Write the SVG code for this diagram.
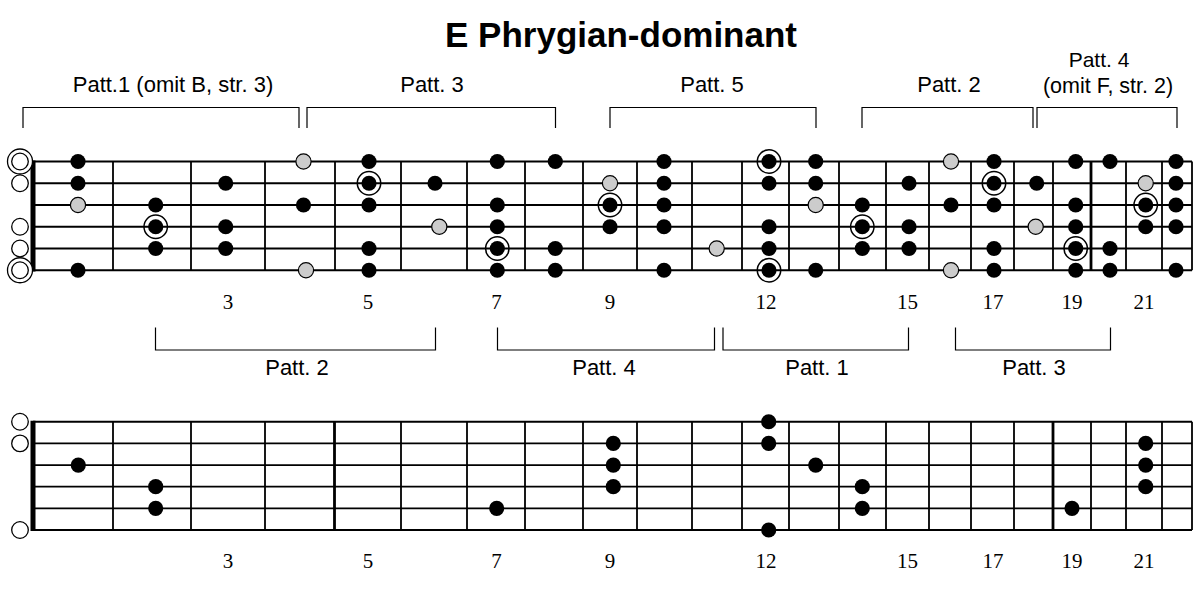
<svg xmlns="http://www.w3.org/2000/svg" width="1200" height="594" viewBox="0 0 1200 594">
<style>
.str{stroke:#000;stroke-width:1.8}
.fret{stroke:#000;stroke-width:1.8}
.thick{stroke-width:2.8}
.nut{fill:#000}
.b{fill:#000}
.g{fill:#ccc;stroke:#000;stroke-width:1.2}
.ring{fill:none;stroke:#000;stroke-width:1.5}
.open{fill:#fff;stroke:#000;stroke-width:1.3}
.br{fill:none;stroke:#000;stroke-width:1.2}
.lbl{font-family:"Liberation Sans",Arial,sans-serif;font-size:22px;text-anchor:middle;fill:#000}
.num{font-family:"Liberation Serif","Times New Roman",serif;font-size:21px;text-anchor:middle;fill:#000}
.title{font-family:"Liberation Sans",Arial,sans-serif;font-weight:bold;font-size:35px;text-anchor:middle;fill:#000}
</style>
<rect width="1200" height="594" fill="#fff"/>
<g id="title"><text class="title" x="621" y="47">E Phrygian-dominant</text></g>

<g id="top-labels">
<text class="lbl" x="173" y="92">Patt.1 (omit B, str. 3)</text>
<text class="lbl" x="432" y="92">Patt. 3</text>
<text class="lbl" x="712" y="92">Patt. 5</text>
<text class="lbl" x="949" y="92">Patt. 2</text>
<text class="lbl" x="1099" y="67" style="font-size:21px">Patt. 4</text>
<text class="lbl" x="1108" y="93" style="font-size:21.5px">(omit F, str. 2)</text>
</g>
<g id="connectors">
<path class="br" d="M23,128V107.5H299V128M307,128V107.5H555.5V128M610,128V107.5H816V128M862,128V107.5H1033V128M1037,128V107.5H1177V128"/>
<path class="br" d="M155.5,327.5V350H435.5V327.5M497.5,327.5V350H714.5V327.5M723,327.5V350H908.5V327.5M955.5,327.5V350H1110.5V327.5"/>
</g>
<g id="mid-labels">
<text class="lbl" x="297" y="375">Patt. 2</text>
<text class="lbl" x="604" y="375">Patt. 4</text>
<text class="lbl" x="817" y="375">Patt. 1</text>
<text class="lbl" x="1034" y="375">Patt. 3</text>
</g>

<g id="board-top">
<g class="strings">
<line class="str" x1="33" y1="161.5" x2="1192" y2="161.5"/>
<line class="str" x1="33" y1="183.25" x2="1192" y2="183.25"/>
<line class="str" x1="33" y1="205" x2="1192" y2="205"/>
<line class="str" x1="33" y1="226.75" x2="1192" y2="226.75"/>
<line class="str" x1="33" y1="248.5" x2="1192" y2="248.5"/>
<line class="str" x1="33" y1="270.25" x2="1192" y2="270.25"/>
</g>
<path class="fret" d="M113,161.5V270.25M191,161.5V270.25M265,161.5V270.25M335,161.5V270.25M401,161.5V270.25M467,161.5V270.25M525,161.5V270.25M583,161.5V270.25M637,161.5V270.25M692,161.5V270.25M742,161.5V270.25M789,161.5V270.25M839,161.5V270.25M886,161.5V270.25M929,161.5V270.25M971,161.5V270.25M1014,161.5V270.25M1053,161.5V270.25M1126,161.5V270.25M1162,161.5V270.25M1192,161.5V270.25"/>
<path class="fret thick" d="M1091,161.5V270.25"/>
<rect class="nut" x="30.5" y="160.5" width="5" height="111"/>
<g id="open-top">
<circle class="open" cx="20" cy="161.5" r="12.5"/><circle class="open" cx="20" cy="161.5" r="8.3"/>
<circle class="open" cx="20" cy="183.25" r="8.3"/>
<circle class="open" cx="20" cy="226.75" r="8.3"/>
<circle class="open" cx="20" cy="248.5" r="8.3"/>
<circle class="open" cx="20" cy="270.25" r="12.5"/><circle class="open" cx="20" cy="270.25" r="8.3"/>
</g>
<g id="gray-top">
<circle class="g" cx="78" cy="205" r="7.6"/>
<circle class="g" cx="303.5" cy="161.5" r="7.6"/>
<circle class="g" cx="306" cy="270.25" r="7.6"/>
<circle class="g" cx="439.3" cy="226.75" r="7.6"/>
<circle class="g" cx="610" cy="183.25" r="7.6"/>
<circle class="g" cx="716.7" cy="248.5" r="7.6"/>
<circle class="g" cx="815.7" cy="205" r="7.6"/>
<circle class="g" cx="951" cy="161.5" r="7.6"/>
<circle class="g" cx="951" cy="270.25" r="7.6"/>
<circle class="g" cx="1035.7" cy="226.75" r="7.6"/>
<circle class="g" cx="1145.7" cy="183.25" r="7.6"/>
</g>
<g id="roots-top">
<circle class="ring" cx="155.7" cy="226.75" r="11.7"/>
<circle class="ring" cx="369" cy="183.25" r="11.7"/>
<circle class="ring" cx="497.3" cy="248.5" r="11.7"/>
<circle class="ring" cx="610" cy="205" r="11.7"/>
<circle class="ring" cx="769" cy="161.5" r="11.7"/>
<circle class="ring" cx="769" cy="270.25" r="11.7"/>
<circle class="ring" cx="862.3" cy="226.75" r="11.7"/>
<circle class="ring" cx="994" cy="183.25" r="11.7"/>
<circle class="ring" cx="1075.7" cy="248.5" r="11.7"/>
<circle class="ring" cx="1145.7" cy="205" r="11.7"/>
</g>
<g id="black-top" class="b">
<circle cx="78" cy="161.5" r="7.6"/><circle cx="78" cy="183.25" r="7.6"/><circle cx="78" cy="270.25" r="7.6"/>
<circle cx="155.7" cy="205" r="7.6"/><circle cx="155.7" cy="226.75" r="7.6"/><circle cx="155.7" cy="248.5" r="7.6"/>
<circle cx="225.7" cy="183.25" r="7.6"/><circle cx="225.7" cy="226.75" r="7.6"/><circle cx="225.7" cy="248.5" r="7.6"/>
<circle cx="303.5" cy="205" r="7.6"/>
<circle cx="369" cy="161.5" r="7.6"/><circle cx="369" cy="183.25" r="7.6"/><circle cx="369" cy="205" r="7.6"/><circle cx="369" cy="248.5" r="7.6"/><circle cx="369" cy="270.25" r="7.6"/>
<circle cx="435" cy="183.25" r="7.6"/>
<circle cx="497.3" cy="161.5" r="7.6"/><circle cx="497.3" cy="205" r="7.6"/><circle cx="497.3" cy="226.75" r="7.6"/><circle cx="497.3" cy="248.5" r="7.6"/><circle cx="497.3" cy="270.25" r="7.6"/>
<circle cx="555.3" cy="161.5" r="7.6"/><circle cx="555.3" cy="248.5" r="7.6"/><circle cx="555.3" cy="270.25" r="7.6"/>
<circle cx="610" cy="205" r="7.6"/><circle cx="610" cy="226.75" r="7.6"/>
<circle cx="664" cy="161.5" r="7.6"/><circle cx="664" cy="183.25" r="7.6"/><circle cx="664" cy="205" r="7.6"/><circle cx="664" cy="226.75" r="7.6"/><circle cx="664" cy="270.25" r="7.6"/>
<circle cx="769" cy="161.5" r="7.6"/><circle cx="769" cy="183.25" r="7.6"/><circle cx="769" cy="226.75" r="7.6"/><circle cx="769" cy="248.5" r="7.6"/><circle cx="769" cy="270.25" r="7.6"/>
<circle cx="815.7" cy="161.5" r="7.6"/><circle cx="815.7" cy="183.25" r="7.6"/><circle cx="815.7" cy="270.25" r="7.6"/>
<circle cx="862.3" cy="205" r="7.6"/><circle cx="862.3" cy="226.75" r="7.6"/><circle cx="862.3" cy="248.5" r="7.6"/>
<circle cx="909" cy="183.25" r="7.6"/><circle cx="909" cy="226.75" r="7.6"/><circle cx="909" cy="248.5" r="7.6"/>
<circle cx="951" cy="205" r="7.6"/>
<circle cx="994" cy="161.5" r="7.6"/><circle cx="994" cy="183.25" r="7.6"/><circle cx="994" cy="205" r="7.6"/><circle cx="994" cy="248.5" r="7.6"/><circle cx="994" cy="270.25" r="7.6"/>
<circle cx="1036.7" cy="183.25" r="7.6"/>
<circle cx="1075.7" cy="161.5" r="7.6"/><circle cx="1075.7" cy="205" r="7.6"/><circle cx="1075.7" cy="226.75" r="7.6"/><circle cx="1075.7" cy="248.5" r="7.6"/><circle cx="1075.7" cy="270.25" r="7.6"/>
<circle cx="1110" cy="161.5" r="7.6"/><circle cx="1110" cy="248.5" r="7.6"/><circle cx="1110" cy="270.25" r="7.6"/>
<circle cx="1145.7" cy="205" r="7.6"/><circle cx="1145.7" cy="226.75" r="7.6"/>
<circle cx="1176" cy="161.5" r="7.6"/><circle cx="1176" cy="183.25" r="7.6"/><circle cx="1176" cy="205" r="7.6"/><circle cx="1176" cy="226.75" r="7.6"/><circle cx="1176" cy="270.25" r="7.6"/>
</g>
<g id="nums-top">
<text class="num" x="228" y="309">3</text>
<text class="num" x="368" y="309">5</text>
<text class="num" x="496.5" y="309">7</text>
<text class="num" x="610" y="309">9</text>
<text class="num" x="766" y="309">12</text>
<text class="num" x="907.5" y="309">15</text>
<text class="num" x="993" y="309">17</text>
<text class="num" x="1072" y="309">19</text>
<text class="num" x="1144" y="309">21</text>
</g>
</g>

<g id="board-bottom">
<g class="strings">
<line class="str" x1="33" y1="421.75" x2="1192" y2="421.75"/>
<line class="str" x1="33" y1="443.4" x2="1192" y2="443.4"/>
<line class="str" x1="33" y1="465.05" x2="1192" y2="465.05"/>
<line class="str" x1="33" y1="486.7" x2="1192" y2="486.7"/>
<line class="str" x1="33" y1="508.35" x2="1192" y2="508.35"/>
<line class="str" x1="33" y1="530" x2="1192" y2="530"/>
</g>
<path class="fret" d="M113,421.75V530M191,421.75V530M265,421.75V530M401,421.75V530M467,421.75V530M525,421.75V530M583,421.75V530M637,421.75V530M692,421.75V530M742,421.75V530M789,421.75V530M839,421.75V530M886,421.75V530M929,421.75V530M971,421.75V530M1014,421.75V530M1091,421.75V530M1126,421.75V530M1162,421.75V530M1192,421.75V530"/>
<path class="fret thick" d="M334.5,421.75V530M1053,421.75V530"/>
<rect class="nut" x="30.5" y="420.75" width="5" height="110.25"/>
<g id="open-bottom">
<circle class="open" cx="20" cy="421.75" r="8.3"/>
<circle class="open" cx="20" cy="443.4" r="8.3"/>
<circle class="open" cx="20" cy="530" r="8.3"/>
</g>
<g id="black-bottom" class="b">
<circle cx="78.3" cy="465.05" r="7.6"/>
<circle cx="155.7" cy="486.7" r="7.6"/><circle cx="155.7" cy="508.35" r="7.6"/>
<circle cx="496.7" cy="508.35" r="7.6"/>
<circle cx="613.3" cy="443.4" r="7.6"/><circle cx="613.3" cy="465.05" r="7.6"/><circle cx="613.3" cy="486.7" r="7.6"/>
<circle cx="768.7" cy="421.75" r="7.6"/><circle cx="768.7" cy="443.4" r="7.6"/><circle cx="768.7" cy="530" r="7.6"/>
<circle cx="815.7" cy="465.05" r="7.6"/>
<circle cx="862.3" cy="486.7" r="7.6"/><circle cx="862.3" cy="508.35" r="7.6"/>
<circle cx="1072" cy="508.35" r="7.6"/>
<circle cx="1145.7" cy="443.4" r="7.6"/><circle cx="1145.7" cy="465.05" r="7.6"/><circle cx="1145.7" cy="486.7" r="7.6"/>
</g>
<g id="nums-bottom">
<text class="num" x="228" y="568">3</text>
<text class="num" x="368" y="568">5</text>
<text class="num" x="496.5" y="568">7</text>
<text class="num" x="610" y="568">9</text>
<text class="num" x="766" y="568">12</text>
<text class="num" x="907.5" y="568">15</text>
<text class="num" x="993" y="568">17</text>
<text class="num" x="1072" y="568">19</text>
<text class="num" x="1144" y="568">21</text>
</g>
</g>
</svg>
